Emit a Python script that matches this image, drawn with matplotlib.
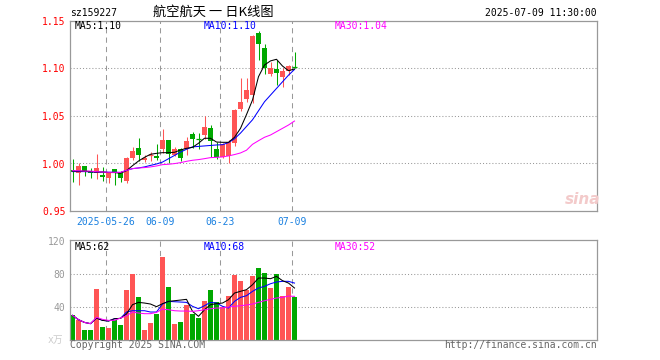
import matplotlib
matplotlib.use('Agg')
import matplotlib.pyplot as plt

plt.rcParams['font.family'] = ['DejaVu Sans Mono', 'Noto Sans CJK SC']

# 日K数据 2025-05-16 .. 2025-07-09
opens = [0.993, 0.990, 0.997, 0.992, 0.990, 0.988, 0.985, 0.994, 0.990, 0.982,
         1.006, 1.016, 1.004, 1.008, 1.008, 1.015, 1.025, 1.009, 1.015, 1.015,
         1.031, 1.027, 1.030, 1.037, 1.015, 1.007, 1.008, 1.022, 1.057, 1.068,
         1.072, 1.137, 1.122, 1.094, 1.100, 1.091, 1.097, 1.102]
highs = [1.005, 1.001, 0.997, 0.995, 1.010, 0.996, 0.990, 0.994, 0.992, 1.007,
         1.017, 1.027, 1.009, 1.012, 1.021, 1.036, 1.025, 1.017, 1.016, 1.028,
         1.033, 1.032, 1.050, 1.040, 1.023, 1.022, 1.025, 1.057, 1.090, 1.090,
         1.135, 1.140, 1.126, 1.107, 1.109, 1.100, 1.104, 1.117]
lows = [0.981, 0.977, 0.987, 0.985, 0.984, 0.982, 0.979, 0.977, 0.980, 0.979,
        1.004, 1.003, 1.002, 1.003, 1.004, 1.011, 1.000, 1.008, 1.003, 1.009,
        1.016, 1.015, 1.026, 1.007, 1.005, 1.006, 1.000, 1.018, 1.055, 1.065,
        1.064, 1.109, 1.094, 1.092, 1.083, 1.081, 1.093, 1.100]
closes = [0.991, 0.997, 0.992, 0.990, 0.995, 0.986, 0.990, 0.990, 0.985, 1.006,
          1.013, 1.009, 1.006, 1.009, 1.006, 1.025, 1.010, 1.015, 1.006, 1.024,
          1.026, 1.026, 1.038, 1.024, 1.007, 1.021, 1.023, 1.056, 1.065, 1.077,
          1.134, 1.126, 1.100, 1.100, 1.095, 1.097, 1.103, 1.102]
volumes = [30, 24, 12.5, 12.5, 62, 16, 14.5, 24, 18.5, 60,
           79.5, 52.5, 12.5, 20, 32, 101, 64.6, 19.8, 22, 42.8,
           32, 27, 47.6, 61, 46.4, 40.4, 53.7, 79, 72, 60,
           78, 86.8, 81.6, 63.4, 80, 53.7, 64, 52.5]

ma5 = [0.992, 0.992, 0.992, 0.9915, 0.991, 0.991, 0.9905, 0.9905, 0.9897, 0.9925,
       0.9977, 1.0026, 1.0065, 1.0097, 1.0107, 1.0114, 1.0114, 1.0118, 1.0142, 1.016,
       1.017, 1.0213, 1.0266, 1.0265, 1.0226, 1.0223, 1.0223, 1.0276, 1.037, 1.0515,
       1.0668, 1.0914, 1.1037, 1.108, 1.1097, 1.1026, 1.0977, 1.0995]
ma10 = [0.9915, 0.9915, 0.9915, 0.9912, 0.991, 0.991, 0.9908, 0.9908, 0.9905, 0.9928,
        0.9946, 0.9953, 0.9964, 0.998, 0.9995, 1.0015, 1.005, 1.0085, 1.012, 1.015,
        1.0175, 1.018, 1.0185, 1.019, 1.0195, 1.0198, 1.022, 1.026, 1.032, 1.039,
        1.046, 1.0555, 1.065, 1.072, 1.079, 1.086, 1.093, 1.099]
ma30 = [0.9924, 0.9924, 0.992, 0.992, 0.9914, 0.991, 0.9907, 0.9907, 0.9907, 0.9928,
        0.9946, 0.9953, 0.9957, 0.9964, 0.9974, 0.9988, 0.9992, 0.9999, 1.0009, 1.0023,
        1.0034, 1.0041, 1.0051, 1.0062, 1.0065, 1.0069, 1.008, 1.0094, 1.0111, 1.014,
        1.0202, 1.024, 1.0276, 1.030, 1.0335, 1.037, 1.0405, 1.0447]

vol_ma5 = [29.9, 24.6, 21.3, 19.8, 26.6, 23.8, 23, 25.8, 26.2, 31.5,
           42.8, 45.6, 44.8, 43.6, 40.4, 44, 46.8, 47.6, 48.4, 49.3,
           34.7, 28.7, 36.7, 42.8, 44, 44.8, 48.85, 56.9, 59, 61,
           67, 75.1, 75.1, 74.3, 77.1, 71.9, 69, 63]
vol_ma10 = [29.9, 24.6, 21.3, 19.8, 26.6, 23.8, 23, 25.8, 26.2, 33.9,
            35.5, 35.5, 35.5, 33.9, 33.9, 43.6, 46.8, 46.4, 46, 45.6,
            40.8, 37.9, 41.6, 45.6, 44.8, 40.8, 38.75, 46.8, 51.7, 53.7,
            58.95, 63, 65, 68.2, 70.3, 71.1, 71.1, 69]
vol_ma30 = [29.9, 24.6, 21.3, 19.8, 27.5, 25, 23.8, 23.8, 26.6, 29.5,
            33.9, 32.7, 31.9, 31.9, 33.5, 37.5, 36.7, 35.5, 35.1, 35.1,
            34.7, 35.5, 36.7, 37.9, 38.75, 38.75, 40, 40.8, 41.6, 42.4,
            43.6, 45.6, 47.6, 49.3, 50.9, 51.7, 53.3, 52.9]

date_idx = [6, 15, 25, 37]
date_labels = ['2025-05-26', '06-09', '06-23', '07-09']
price_ticks = [0.95, 1.00, 1.05, 1.10, 1.15]
vol_ticks = [40, 80, 120]

RED = '#ff5555'
GREEN = '#00a800'
GRAY = '#999999'
DATE_BLUE = '#1a80e0'

W, H = 660, 360


def rect(x0, y0, x1, y1):
    return [x0 / W, 1 - y1 / H, (x1 - x0) / W, (y1 - y0) / H]


def fxy(x, y):
    return x / W, 1 - y / H


fig = plt.figure(figsize=(W / 100, H / 100), dpi=100)
ax = fig.add_axes(rect(70, 21, 597, 211))
axv = fig.add_axes(rect(70, 240, 597, 340))

n = len(closes)
bw = 5 / 6
slots = 527 / 6
centers = [i + bw / 2 for i in range(n)]
colors = [RED if c > o else GREEN for o, c in zip(opens, closes)]

# 网格
for a in (ax, axv):
    for i in date_idx:
        a.axvline(i, color=GRAY, lw=0.75, linestyle=(0, (5, 4)), zorder=0)
for y in price_ticks[1:-1]:
    ax.axhline(y, color=GRAY, lw=0.75, linestyle=(0, (1, 2)), zorder=0)
for y in vol_ticks[:-1]:
    axv.axhline(y, color=GRAY, lw=0.75, linestyle=(0, (1, 2)), zorder=0)

# K线
for i in range(n):
    ax.vlines(centers[i], lows[i], highs[i], color=colors[i], lw=0.75, zorder=2)
    lo = min(opens[i], closes[i])
    hi = max(opens[i], closes[i])
    if hi - lo < 0.0012:
        ax.hlines(closes[i], i, i + bw, color=colors[i], lw=0.9, zorder=2)
    else:
        ax.bar(i, hi - lo, bw, bottom=lo, align='edge', color=colors[i],
               linewidth=0, zorder=2)

ax.plot(centers, ma10, color='#0000ff', lw=0.75, zorder=3)
ax.plot(centers, ma5, color='black', lw=0.75, zorder=3)
ax.plot(centers, ma30, color='#ff00ff', lw=0.75, zorder=3)

ax.set_xlim(0, slots)
ax.set_ylim(0.95, 1.15)
ax.set_yticks(price_ticks)
ax.set_yticklabels(['%.2f' % t for t in price_ticks], color='#ff0000', fontsize=7)
ax.set_xticks(date_idx)
ax.set_xticklabels(date_labels, color=DATE_BLUE, fontsize=7)
ax.tick_params(length=0, pad=3)
ax.tick_params(axis='x', pad=4.5)

# 成交量
axv.bar(range(n), volumes, bw, align='edge', color=colors, linewidth=0, zorder=2)
axv.plot(centers, vol_ma10, color='#0000ff', lw=0.75, zorder=3)
axv.plot(centers, vol_ma5, color='black', lw=0.75, zorder=3)
axv.plot(centers, vol_ma30, color='#ff00ff', lw=0.75, zorder=3)
axv.set_xlim(0, slots)
axv.set_ylim(0, 121.2)
axv.set_yticks(vol_ticks)
axv.set_yticklabels([str(t) for t in vol_ticks], color=GRAY, fontsize=7)
axv.set_xticks([])
axv.tick_params(length=0, pad=3.5)

for a in (ax, axv):
    for s in a.spines.values():
        s.set_color(GRAY)
        s.set_linewidth(0.9)

# 文字
fig.text(*fxy(70, 13), 'sz159227', fontsize=7, va='center', ha='left')
fig.text(*fxy(213, 12), '航空航天 一 日K线图', family=['Noto Sans CJK SC'],
         fontsize=9.5, va='center', ha='center')
fig.text(*fxy(597, 13), '2025-07-09 11:30:00', fontsize=7, va='center', ha='right')

fig.text(*fxy(75, 26), 'MA5:1.10', fontsize=7, va='center', color='black')
fig.text(*fxy(204, 26), 'MA10:1.10', fontsize=7, va='center', color='#0000ff')
fig.text(*fxy(335, 26), 'MA30:1.04', fontsize=7, va='center', color='#ff00ff')
fig.text(*fxy(75, 247), 'MA5:62', fontsize=7, va='center', color='black')
fig.text(*fxy(204, 247), 'MA10:68', fontsize=7, va='center', color='#0000ff')
fig.text(*fxy(335, 247), 'MA30:52', fontsize=7, va='center', color='#ff00ff')

fig.text(*fxy(63, 340), 'x万', family=['DejaVu Sans Mono', 'Noto Sans CJK SC'],
         fontsize=7, va='center', ha='right', color='#cccccc')
fig.text(*fxy(70, 345), 'Copyright 2025 SINA.COM', fontsize=7, va='center',
         ha='left', color='#666666')
fig.text(*fxy(597, 345), 'http://finance.sina.com.cn', fontsize=7, va='center',
         ha='right', color='#666666')

fig.text(*fxy(583, 200), 'sina', fontsize=11, style='italic', weight='bold',
         va='center', ha='center', color='#f3caca', family='DejaVu Sans')

fig.savefig('out.png', dpi=100)
